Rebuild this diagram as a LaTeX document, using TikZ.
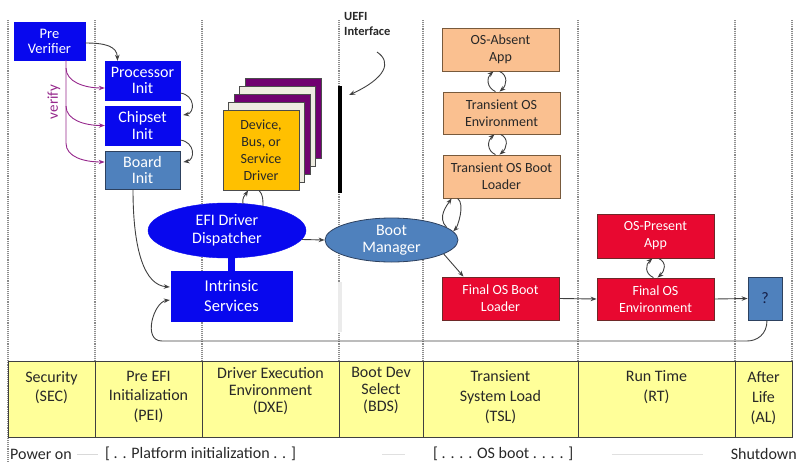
\documentclass[tikz,border=0pt]{standalone}
\usepackage{fontspec}
\setmainfont{Carlito}
\usetikzlibrary{shapes.geometric,arrows.meta,calc}
\definecolor{cblue}{RGB}{8,8,238}
\definecolor{csteel}{RGB}{79,129,189}
\definecolor{csteelb}{RGB}{45,65,95}
\definecolor{corange}{RGB}{250,192,144}
\definecolor{corangeb}{RGB}{120,90,60}
\definecolor{cred}{RGB}{232,8,48}
\definecolor{credb}{RGB}{110,40,40}
\definecolor{cdrv}{RGB}{255,192,0}
\definecolor{cpurple}{RGB}{112,0,112}
\definecolor{ccream}{RGB}{238,236,225}
\definecolor{ctable}{RGB}{255,255,153}
\definecolor{cverify}{RGB}{150,40,140}
\definecolor{cline}{RGB}{64,64,64}
\definecolor{ctext}{RGB}{40,40,40}
\newcommand{\myfs}[2]{\fontsize{#1}{#2}\selectfont}
\newcommand{\mycycle}[3]{%
  \draw[arr] ($(#2.north)+(#3-2,0)$) .. controls +(-9,-4) and +(-7,6) .. ($(#1.south)+(#3-3,0)$);
  \draw[arr] ($(#1.south)+(#3+3,0)$) .. controls +(9,4) and +(7,-6) .. ($(#2.north)+(#3+2,0)$);}
\begin{document}
\begin{tikzpicture}[x=1pt,y=-1pt,
  arr/.style={-{Stealth[length=6pt,width=4.5pt]}, draw=cline, line width=0.9pt},
  divider/.style={draw=black!45, densely dotted, line width=1.1pt},
  tableline/.style={draw=cline, line width=0.9pt},
  bbox/.style={rectangle, draw=cblue, fill=cblue, text=white, align=center, inner sep=0pt},
  sbox/.style={rectangle, draw=csteelb, fill=csteel, text=white, align=center, inner sep=0pt, line width=0.8pt},
  obox/.style={rectangle, draw=corangeb, fill=corange, text=ctext, align=center, inner sep=0pt, line width=0.8pt, minimum width=117pt, font=\myfs{14}{17}},
  rbox/.style={rectangle, draw=credb, fill=cred, text=white, align=center, inner sep=0pt, line width=0.8pt, minimum width=117pt, font=\myfs{14}{17}},
  layer/.style={rectangle, draw=black!70, minimum width=76pt, minimum height=80pt, line width=0.8pt, inner sep=0pt},
  phase/.style={anchor=north, align=center, inner sep=0pt, text=ctext},
  bottomtext/.style={inner sep=0pt, text=ctext, font=\myfs{16}{18}}
]
\useasboundingbox (0,0) rectangle (800,463);

% phase dividers
\foreach \xx in {95,202,339,423,578,735,792} \draw[divider] (\xx,20) -- (\xx,361);
\draw[divider] (8,20) -- (8,463);

% phase table
\draw[tableline, fill=ctable] (8,361) rectangle (792,437);
\foreach \xx in {95,202,339,423,578,735} \draw[tableline] (\xx,361) -- (\xx,437);
\node[phase, font=\myfs{16}{19}] (sec) at (51.5,371) {Security\\(SEC)};
\node[phase, font=\myfs{16}{19.5}] (pei) at (148.5,371) {Pre EFI\\Initialization\\(PEI)};
\node[phase, font=\myfs{16}{17}] (dxe) at (270.5,367) {Driver Execution\\Environment\\(DXE)};
\node[phase, font=\myfs{16}{17}] (bds) at (381,367) {Boot Dev\\Select\\(BDS)};
\node[phase, font=\myfs{16}{20}] (tsl) at (500.5,370) {Transient\\System Load\\(TSL)};
\node[phase, font=\myfs{16}{20}] (rt) at (656.5,370) {Run Time\\(RT)};
\node[phase, font=\myfs{16}{20}] (al) at (763.5,371) {After\\Life\\(AL)};

% bottom timeline
\node[bottomtext, anchor=west] (pon) at (10,454) {Power on};
\node[bottomtext, anchor=west] (plat) at (105,454) {[ . . Platform initialization . . ]};
\node[bottomtext, anchor=west] (osb) at (433,454) {[ . . . . OS boot . . . . ]};
\node[bottomtext, anchor=east] (shut) at (797,454) {Shutdown};
\draw[draw=black!15, line width=1pt] ($(pon.east)+(5,0)$) -- ($(plat.west)+(-7,0)$);
\draw[draw=black!12, line width=1pt] ($(plat.east)+(86,0)$) -- ($(osb.west)+(-28,0)$);
\draw[draw=black!12, line width=1pt] ($(osb.east)+(38,0)$) -- ($(shut.west)+(-28,0)$);

% SEC / PEI
\node[bbox, minimum width=71pt, minimum height=38pt, font=\myfs{14.5}{15}] (prev) at (49.5,41) {Pre\\Verifier};
\node[bbox, minimum width=75pt, minimum height=39pt, font=\myfs{16}{16.5}] (proc) at (142.5,80.5) {Processor\\Init};
\node[bbox, minimum width=75pt, minimum height=39pt, font=\myfs{16}{16.5}] (chip) at (142.5,125.5) {Chipset\\Init};
\node[sbox, minimum width=75pt, minimum height=38pt, font=\myfs{16}{16.5}] (board) at (142.5,170) {Board\\Init};

% DXE
\node[layer, fill=cpurple] (drv4) at (283,118) {};
\node[layer, fill=ccream] (drv3) at (277.5,126) {};
\node[layer, fill=cpurple] (drv2) at (272,134) {};
\node[layer, fill=ccream] (drv1) at (266.5,142) {};
\node[layer, fill=cdrv, text=ctext, align=center, font=\myfs{14}{17}] (drv) at (261,150) {Device,\\Bus, or\\Service\\Driver};
\node[ellipse, fill=cblue, draw=cblue, text=white, align=center, inner sep=0pt, minimum width=158pt, minimum height=55pt, font=\myfs{16}{18}] (disp) at (227,230.5) {EFI Driver\\Dispatcher};
\node[bbox, minimum width=121pt, minimum height=50pt, font=\myfs{16.5}{20}] (intr) at (231.5,296) {Intrinsic\\Services};
\fill[cblue] ($(intr.north)+(-3.5,0.5)$) rectangle ($(intr.north |- disp.south)+(3.5,-2)$);

% BDS
\node[fill=black!8, minimum width=4pt, minimum height=50pt, inner sep=0pt] (gbar) at (340,307) {};
\node[fill=black, minimum width=4pt, minimum height=107pt, inner sep=0pt] (ubar) at (340,139.5) {};
\node[anchor=north west, align=left, inner sep=0pt, font=\bfseries\myfs{12.5}{15}, text=ctext] (uefi) at (344,12) {UEFI\\Interface};
\coordinate (ustart) at (377,52);
\node[ellipse, fill=csteel, draw=csteelb, line width=0.8pt, text=white, align=center, inner sep=0pt, minimum width=133pt, minimum height=44pt, font=\myfs{16}{17}] (bm) at (391.5,240) {Boot\\Manager};

% TSL
\node[obox, minimum height=43pt] (absent) at (500.5,49.5) {OS-Absent\\App};
\node[obox, minimum height=42pt] (tenv) at (501.5,113) {Transient OS\\Environment};
\node[obox, minimum height=43pt] (tbl) at (501.5,176.5) {Transient OS Boot\\Loader};
\node[rbox, minimum height=43pt] (fbl) at (500.5,298.5) {Final OS Boot\\Loader};

% RT / AL
\node[rbox, minimum height=44pt] (papp) at (655.5,236) {OS-Present\\App};
\node[rbox, minimum height=42pt] (fenv) at (655.5,299) {Final OS\\Environment};
\node[sbox, minimum width=34pt, minimum height=43pt, text={rgb,255:red,20;green,30;blue,70}, font=\myfs{16}{17}] (q) at (765,298.5) {?};

% PEI connectors
\draw[arr] ($(prev.east)+(0,2)$) .. controls (105,43) and (117,46) .. ($(proc.north)+(-25,0)$);
\draw[arr] ($(proc.east)+(0,12.5)$) .. controls +(15,2) and +(12,-2) .. ($(chip.east)+(3,-10.5)$);
\draw[arr] ($(chip.east)+(0,14.5)$) .. controls +(15,2) and +(12,-2) .. ($(board.east)+(3,-8)$);

% verify arrows
\coordinate (v1) at (66,68);
\coordinate (v2) at (66,106);
\draw[arr, draw=cverify] ($(prev.south)+(16.5,0)$) -- ++(0,83) .. controls +(0,14) and +(-20,0) .. ($(board.west)+(0,-8)$);
\draw[arr, draw=cverify] (v1) .. controls +(0,14) and +(-20,0) .. ($(proc.west)+(0,7.5)$);
\draw[arr, draw=cverify] (v2) .. controls +(0,14) and +(-20,0) .. (chip.west);
\node[rotate=90, text=cverify, inner sep=0pt, font=\myfs{15}{15}] (vlabel) at (54,102) {verify};

% DXE connectors
\draw[arr] ($(board.south)+(-9.5,0)$) .. controls +(0,62) and +(-25,-2) .. ($(intr.west)+(-1,-9)$);
\draw[arr] ($(disp.north)+(16,1)$) .. controls +(-1,-7) and +(-3,5) .. ($(drv.south)+(-13,0)$);
\draw[draw=cline, line width=0.9pt] ($(drv.south)+(-2,0)$) .. controls +(4,4) and +(0,-6) .. ($(disp.north)+(36,3)$);
\draw[arr] ($(disp.east)+(-4,9)$) -- (bm.west);

% BDS connectors
\draw[arr] (ustart) .. controls (392,62) and (386,78) .. ($(ubar.east)+(7,-44.5)$);
\draw[arr] (bm.13) .. controls +(-10,-10) and +(-4,6) .. ($(tbl.south west)+(9,0)$);
\draw[arr] ($(tbl.south west)+(15,0)$) .. controls +(8,6) and +(4,-4) .. (bm.8);
\draw[arr] (bm.-15) -- ($(fbl.north)+(-37,0)$);

% TSL / RT loops
\mycycle{absent}{tenv}{-4}
\mycycle{tenv}{tbl}{-4}
\mycycle{papp}{fenv}{0}
\draw[arr] (fbl.east) -- (fenv.west);
\draw[arr] (fenv.east) -- (q.west);

% return to intrinsic services
\coordinate (r1) at (747,341);
\coordinate (r2) at (162,341);
\draw[arr] ($(q.south)+(2,0)$) .. controls +(0,14) and +(10,0) .. (r1) -- (r2) .. controls +(-20,0) and +(-16,2) .. ($(intr.west)+(-1,4)$);
\end{tikzpicture}
\end{document}
